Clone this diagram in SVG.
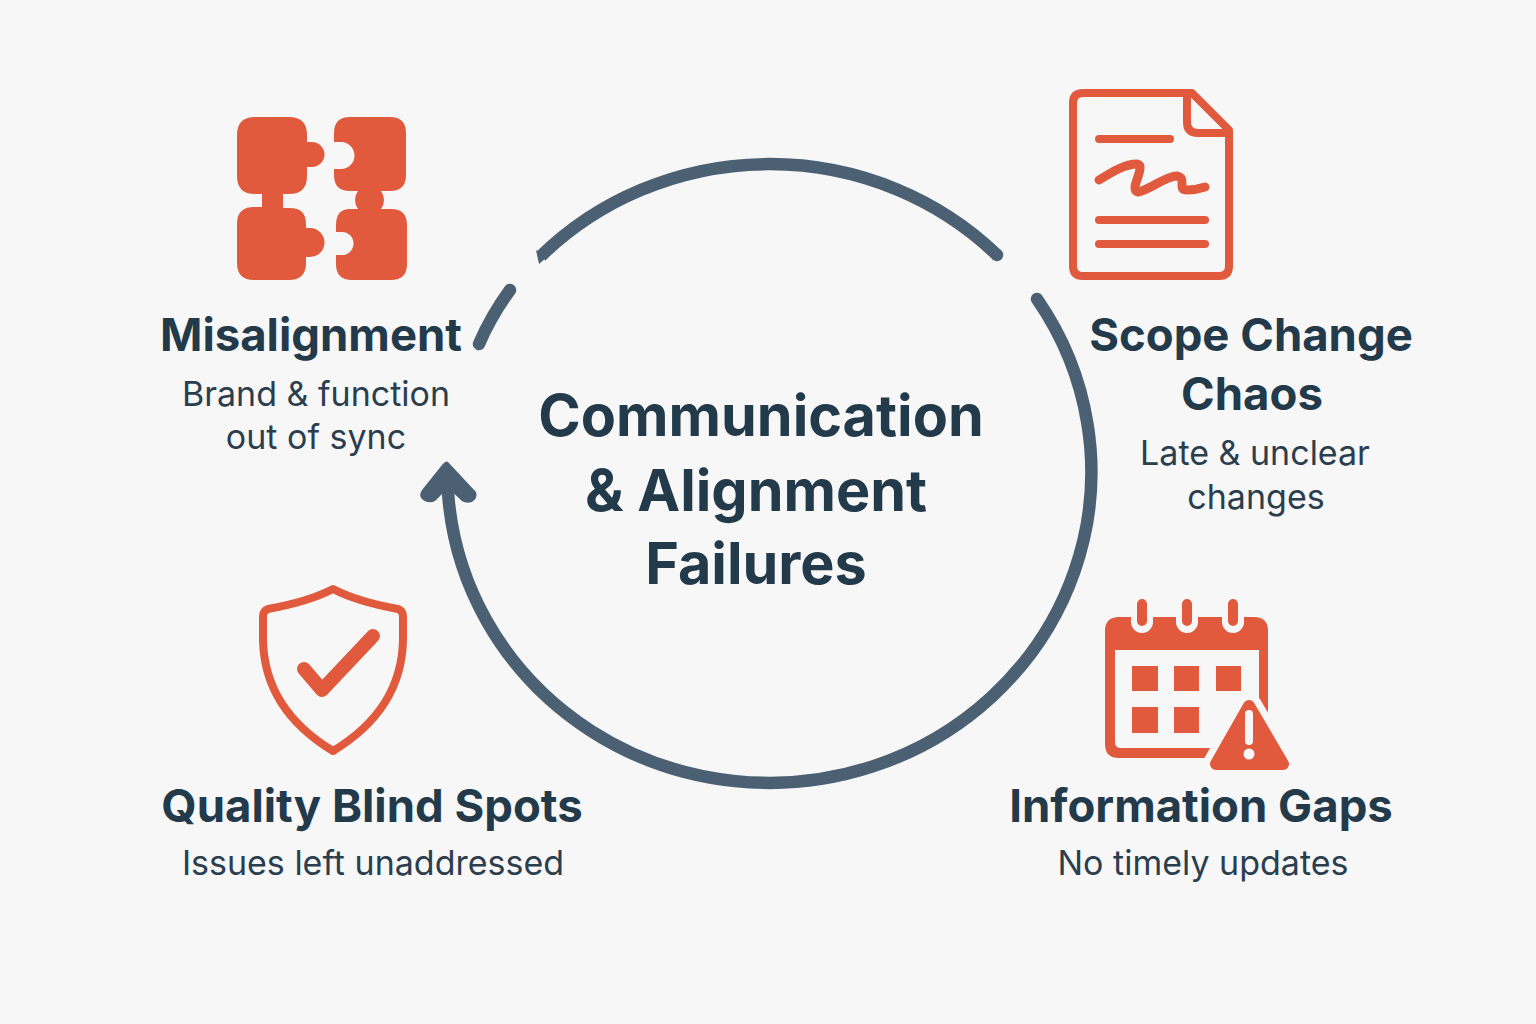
<svg xmlns="http://www.w3.org/2000/svg" width="1536" height="1024" viewBox="0 0 1536 1024">
<style>
.h{font-family:Inter,"Liberation Sans",sans-serif;font-weight:700;font-size:45.500px;fill:#233a4b;text-anchor:middle}
.c{font-family:Inter,"Liberation Sans",sans-serif;font-weight:700;font-size:57.500px;fill:#233a4b;text-anchor:middle}
.s{font-family:Inter,"Liberation Sans",sans-serif;font-weight:400;font-size:34px;fill:#2b3e4e;text-anchor:middle}
.o{fill:#e25a3d}
.l{fill:none;stroke:#e25a3d;stroke-linecap:round;stroke-linejoin:round}
.a{fill:none;stroke:#4c6074;stroke-width:12.500}
</style>
<rect width="1536" height="1024" fill="#f7f7f7"/>
<g id="connectors">
<path class="a" d="M541 256A322 311 0 0 1 997 255" stroke-linecap="butt"/>
<path class="a" d="M997 255l0 0" stroke-linecap="round"/>
<path d="M536 250L546 258L539 264Z" fill="#4c6074"/>
<path class="a" d="M1037 299A322 311 0 1 1 448 492" stroke-linecap="round"/>
<path class="a" d="M479 344Q491 316 510 290" stroke-linecap="round" stroke-width="13"/>
<path d="M448 462L476 492Q478 498 472 502Q466 504 462 501L448 488L435 501Q429 504 423 500Q418 496 422 490L442 465Q446 460 448 462Z" fill="#4c6074"/>
</g>
<g id="center">
<text class="c" x="761" y="436">Communication</text>
<text class="c" x="756" y="511">&amp; Alignment</text>
<text class="c" x="756" y="584">Failures</text>
</g>
<g id="misalignment">
<path class="o" d="M255 117H289Q307 117 307 135V142H312A12.500 12.500 0 0 1 312 167H307V176Q307 194 289 194H283V208H290Q306 208 306 224V228H310A14.500 14.500 0 0 1 310 257H306V263Q306 280 289 280H254Q237 280 237 263V224Q237 207 254 207H262V194H255Q237 194 237 176V135Q237 117 255 117Z"/>
<path class="o" d="M350 117H390Q406 117 406 133V175Q406 191 390 191H381A15 15 0 0 1 381 209H391Q407 209 407 225V264Q407 280 391 280H352Q336 280 336 264V255H342A11.500 11.500 0 0 0 342 232H336V225Q336 209 350 209H358A15 15 0 0 1 358 191H350Q334 191 334 175V169H341A13.500 13.500 0 0 0 341 142H334V133Q334 117 350 117Z"/>
<text class="h" x="311" y="351">Misalignment</text>
<text class="s" x="316" y="406">Brand &amp; function</text>
<text class="s" x="316" y="449">out of sync</text>
</g>
<g id="scope-change-chaos">
<path class="l" stroke-width="8" d="M1083 93H1192L1229 130V266Q1229 276 1219 276H1083Q1073 276 1073 266V103Q1073 93 1083 93Z"/>
<path class="l" stroke-width="8" d="M1187 95V122Q1187 133 1198 133H1228"/>
<path class="l" stroke-width="8" d="M1099 139H1170M1099 220H1205M1099 244H1205"/>
<path class="l" stroke-width="9" d="M1099 180C1112 172 1125 164 1137 164C1147 166 1128 190 1138 192C1150 190 1165 176 1177 176C1188 178 1176 190 1187 190Q1196 190 1205 187"/>
<text class="h" x="1251" y="351">Scope Change</text>
<text class="h" x="1252" y="410">Chaos</text>
<text class="s" x="1255" y="465">Late &amp; unclear</text>
<text class="s" x="1256" y="509">changes</text>
</g>
<g id="information-gaps">
<path class="o" fill-rule="evenodd" d="M1119 617H1254Q1268 617 1268 631V744Q1268 758 1254 758H1119Q1105 758 1105 744V631Q1105 617 1119 617ZM1115 650V742Q1115 748 1121 748H1259V650Z"/>
<path fill="#f7f7f7" d="M1131 610H1153V622A11 11 0 0 1 1131 622ZM1176 610H1198V622A11 11 0 0 1 1176 622ZM1222 610H1244V622A11 11 0 0 1 1222 622Z"/>
<path class="l" stroke-width="10" d="M1142 604V621M1187 604V621M1233 604V621"/>
<path class="o" d="M1132 666h26v25h-26zM1174 666h25v25h-25zM1216 666h25v25h-25zM1132 707h26v26h-26zM1174 707h25v26h-25z"/>
<path d="M1249 706L1283 764H1216Z" fill="#f7f7f7" stroke="#f7f7f7" stroke-width="26" stroke-linejoin="round"/>
<path d="M1249 706L1283 764H1216Z" fill="#e25a3d" stroke="#e25a3d" stroke-width="12" stroke-linejoin="round"/>
<path d="M1249 714V741" stroke="#f7f7f7" stroke-width="8" stroke-linecap="round"/>
<circle cx="1249" cy="754" r="5.500" fill="#f7f7f7"/>
<text class="h" x="1201" y="822">Information Gaps</text>
<text class="s" x="1203" y="875">No timely updates</text>
</g>
<g id="quality-blind-spots">
<path class="l" stroke-width="8" d="M333 589C312 600 290 605 268 609Q263 611 263 616V640C264 690 290 725 333 751C376 725 402 690 403 640V616Q403 611 398 609C376 605 354 600 333 589Z"/>
<path class="l" stroke-width="14" d="M304 669L322 690L373 636"/>
<text class="h" x="372" y="822">Quality Blind Spots</text>
<text class="s" x="373" y="875">Issues left unaddressed</text>
</g>
</svg>
